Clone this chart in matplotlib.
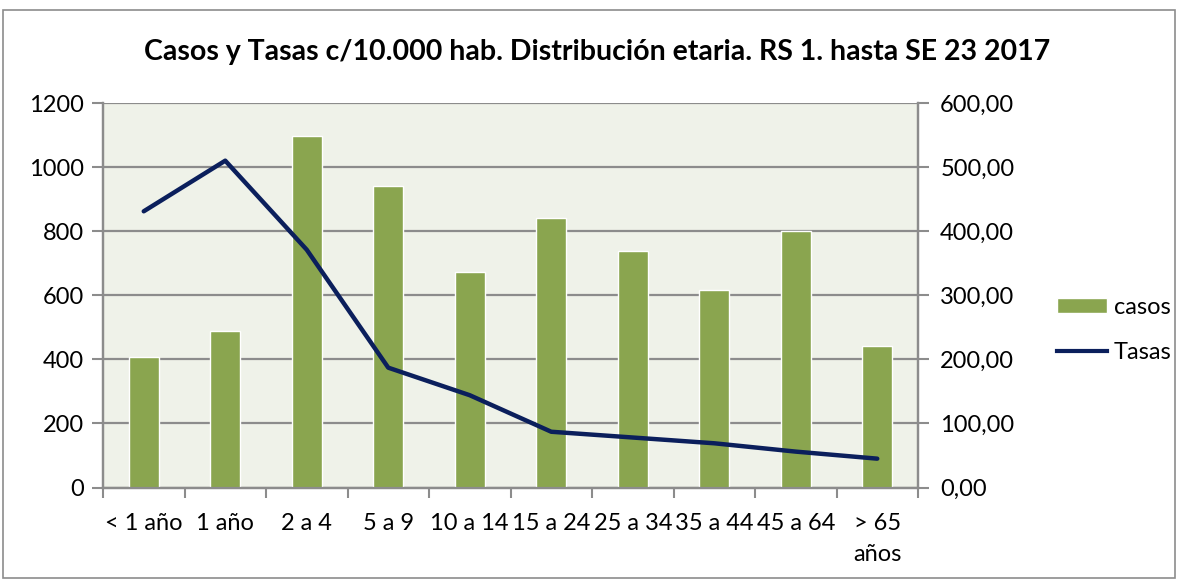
import matplotlib
matplotlib.use("Agg")
import matplotlib.pyplot as plt
import numpy as np
from matplotlib.patches import Rectangle
from matplotlib.lines import Line2D
from matplotlib.patches import Patch

categories = ["< 1 año", "1 año", "2 a 4", "5 a 9", "10 a 14", "15 a 24",
              "25 a 34", "35 a 44", "45 a 64", "> 65\naños"]
casos = [406, 487, 1098, 941, 674, 842, 739, 616, 800, 443]
tasas = [431, 510, 371, 187, 144, 87, 78, 69, 56, 45]

left_ticks = [0, 200, 400, 600, 800, 1000, 1200]
right_ticks = [0, 100, 200, 300, 400, 500, 600]

plt.rcParams['font.family'] = ['Lato', 'DejaVu Sans']

W, H = 1178, 580
fig = plt.figure(figsize=(W / 100, H / 100), dpi=100)
fig.patch.set_facecolor("white")

# outer border
fig.add_artist(Rectangle((3 / W, 2 / H), 1172 / W, 1 - 12 / H, transform=fig.transFigure,
                         fill=False, edgecolor="#8c8c8c", linewidth=1.2))

ax = fig.add_axes([103 / W, 1 - 487.5 / H, (918 - 103) / W, (487.5 - 103) / H])
ax.set_facecolor("#EFF2E9")
ax2 = ax.twinx()

x = np.arange(len(categories))
bar_color = "#8AA54F"
line_color = "#0B1F5C"
grid_color = "#8c8c8c"
fs = 17

ax.bar(x, casos, width=0.37, color=bar_color, edgecolor="white", linewidth=1.0, zorder=3)
ax2.plot(x, tasas, color=line_color, linewidth=3.2, solid_capstyle="round", zorder=4)

ax.set_xlim(-0.5, len(categories) - 0.5)
ax.set_ylim(0, 1200)
ax2.set_ylim(0, 600)
ax.set_yticks(left_ticks)
ax.set_yticklabels([str(v) for v in left_ticks])
ax2.set_yticks(right_ticks)
ax2.set_yticklabels([f"{v:.2f}".replace(".", ",") for v in right_ticks])

ax.yaxis.grid(True, color=grid_color, linewidth=1.6, zorder=1)
ax.set_axisbelow(True)

ax.set_xticks(x)
ax.set_xticklabels(categories, fontsize=fs, linespacing=1.6, va="top")
ax.set_xticks(np.arange(-0.5, len(categories), 1.0), minor=True)
ax.tick_params(axis="x", which="major", length=0, pad=18)
ax.tick_params(axis="x", which="minor", length=7, width=1.5, color=grid_color)
ax.tick_params(axis="y", length=8, width=1.5, color=grid_color, labelsize=fs, pad=6)
ax2.tick_params(axis="y", length=8, width=1.5, color=grid_color, labelsize=fs, pad=8)

for a in (ax, ax2):
    a.spines["top"].set_visible(False)
    for s in ("left", "right", "bottom"):
        a.spines[s].set_color(grid_color)
        a.spines[s].set_linewidth(1.6)

fig.text(597 / W, 1 - 52 / H, "Casos y Tasas c/10.000 hab. Distribución etaria. RS 1. hasta SE 23 2017",
         ha="center", va="center", fontsize=20.5, fontweight="bold")

handles = [Patch(facecolor=bar_color, edgecolor="white", label="casos"),
           Line2D([0], [0], color=line_color, linewidth=3, label="Tasas")]
fig.legend(handles=handles, loc="center left", bbox_to_anchor=(1036 / W, 1 - 330 / H),
           frameon=False, fontsize=fs, handlelength=2.1, handleheight=0.6,
           labelspacing=1.0, handletextpad=0.3)

fig.savefig("out.png", dpi=100)
